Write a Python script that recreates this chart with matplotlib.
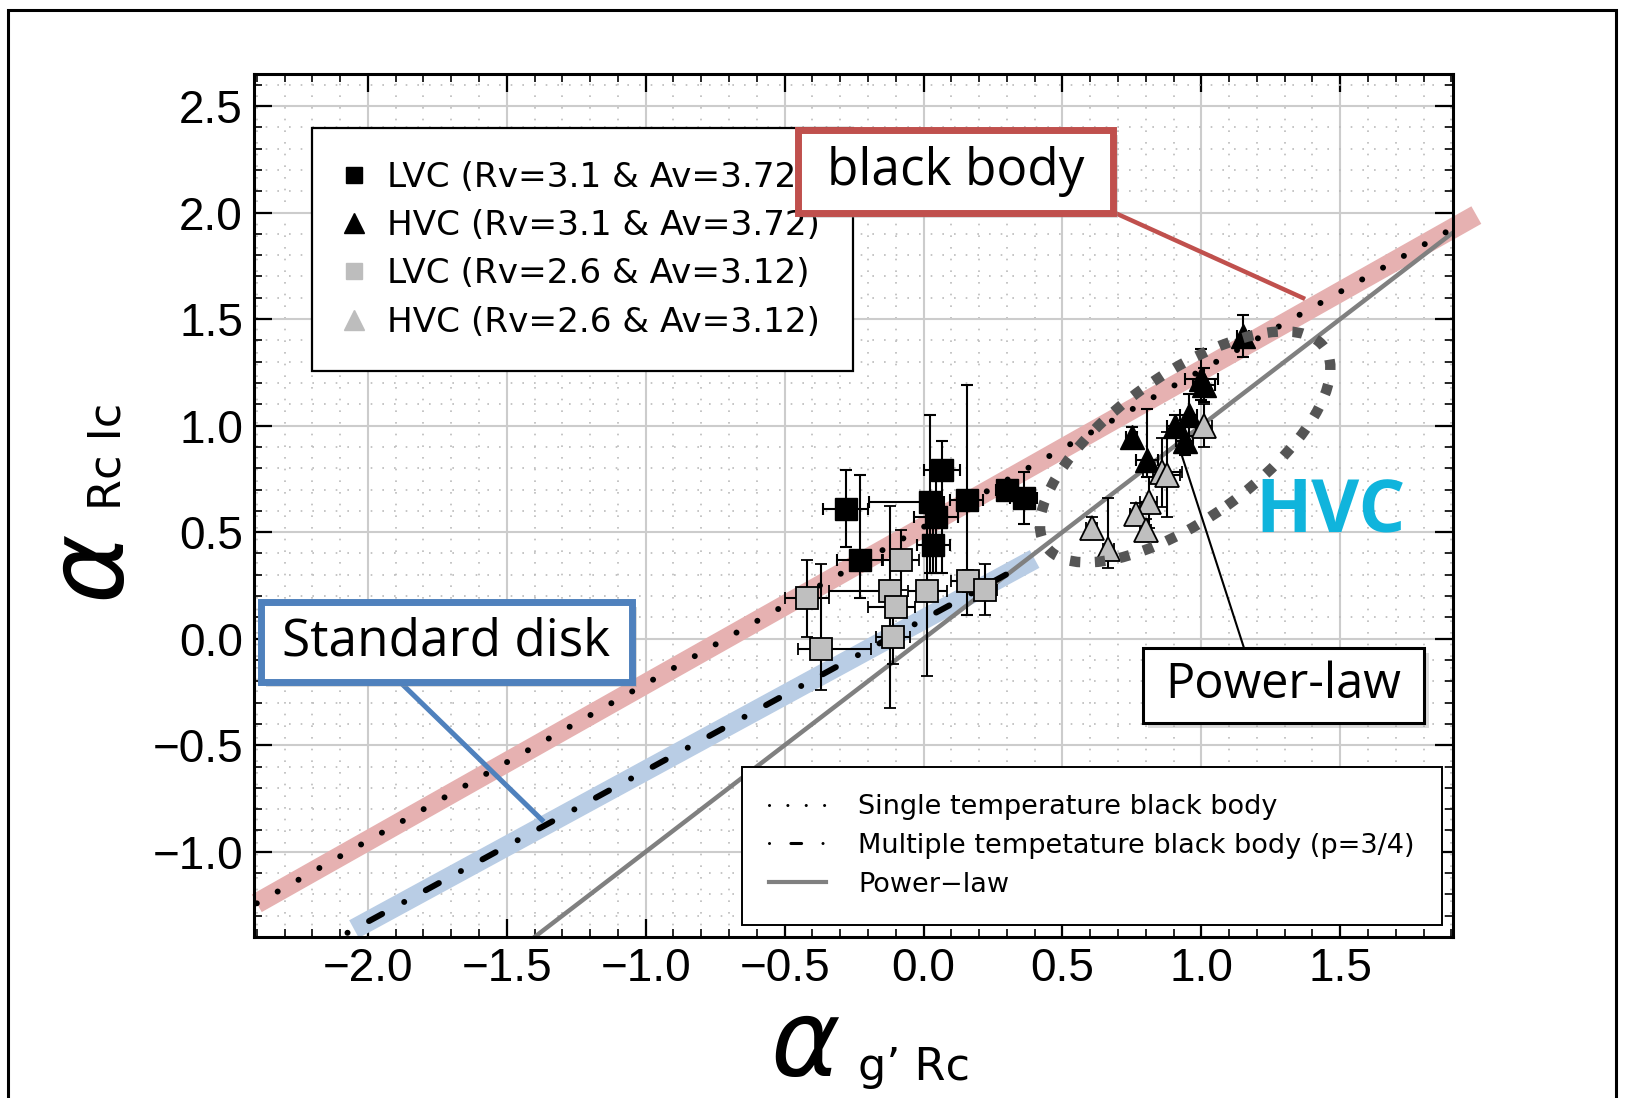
import matplotlib.pyplot as plt
import matplotlib.transforms as mtransforms
from matplotlib.lines import Line2D
from matplotlib.patches import Rectangle, Ellipse

W, H = 1626, 1098

# ---- data ----
# LVC (Rv=3.1 & Av=3.72), black squares
lvc1_x = [-0.28, -0.23, 0.065, 0.025, 0.045, 0.035, 0.155, 0.30, 0.36]
lvc1_y = [0.61, 0.37, 0.79, 0.64, 0.57, 0.44, 0.65, 0.70, 0.66]
lvc1_xlo = [0.08, 0.08, 0.065, 0.22, 0.08, 0.06, 0.06, 0.04, 0.05]
lvc1_xhi = [0.08, 0.08, 0.065, 0.05, 0.08, 0.06, 0.06, 0.04, 0.05]
lvc1_ylo = [0.18, 0.18, 0.48, 0.33, 0.26, 0.13, 0.54, 0.03, 0.12]
lvc1_yhi = [0.18, 0.40, 0.14, 0.41, 0.26, 0.13, 0.54, 0.03, 0.12]

# HVC (Rv=3.1 & Av=3.72), black triangles
hvc1_x = [1.15, 1.00, 1.01, 0.955, 0.905, 0.94, 0.75, 0.805]
hvc1_y = [1.42, 1.22, 1.19, 1.05, 1.00, 0.93, 0.945, 0.84]
hvc1_xerr = [0.02, 0.06, 0.04, 0.03, 0.03, 0.03, 0.02, 0.04]
hvc1_ylo = [0.10, 0.10, 0.08, 0.10, 0.05, 0.07, 0.05, 0.08]
hvc1_yhi = [0.10, 0.14, 0.08, 0.10, 0.05, 0.07, 0.05, 0.24]

# LVC (Rv=2.6 & Av=3.12), grey squares
lvc2_x = [-0.42, -0.37, -0.08, -0.12, -0.10, -0.11, 0.013, 0.16, 0.22]
lvc2_y = [0.19, -0.05, 0.37, 0.225, 0.15, 0.01, 0.225, 0.27, 0.23]
lvc2_xlo = [0.08, 0.08, 0.065, 0.22, 0.10, 0.06, 0.07, 0.06, 0.045]
lvc2_xhi = [0.08, 0.18, 0.065, 0.03, 0.07, 0.06, 0.07, 0.06, 0.045]
lvc2_ylo = [0.18, 0.19, 0.14, 0.55, 0.05, 0.13, 0.40, 0.05, 0.12]
lvc2_yhi = [0.18, 0.40, 0.14, 0.40, 0.05, 0.13, 0.40, 0.05, 0.12]

# HVC (Rv=2.6 & Av=3.12), grey triangles
hvc2_x = [1.01, 0.86, 0.875, 0.81, 0.765, 0.80, 0.605, 0.665]
hvc2_y = [1.00, 0.78, 0.77, 0.64, 0.585, 0.51, 0.52, 0.42]
hvc2_xerr = [0.03, 0.07, 0.05, 0.03, 0.02, 0.02, 0.02, 0.02]
hvc2_ylo = [0.10, 0.16, 0.20, 0.12, 0.05, 0.05, 0.05, 0.09]
hvc2_yhi = [0.10, 0.16, 0.20, 0.12, 0.05, 0.05, 0.05, 0.24]

# model lines
bb_x = [-2.40, 1.90]            # single temperature black body
bb_y = [-1.242, 1.922]
bb_band_x = [-2.40, 1.99]
bb_band_y = [-1.242, 1.988]
mbb_x = [-2.20, 0.30]           # multiple temperature black body (p=3/4)
mbb_y = [-1.470, 0.303]
mbb_band_x = [-2.05, 0.40]
mbb_band_y = [-1.363, 0.374]
pl_x = [-2.40, 1.90]            # power-law
pl_y = [-2.40, 1.90]

xticks = [-2.0, -1.5, -1.0, -0.5, 0.0, 0.5, 1.0, 1.5]
yticks = [-1.0, -0.5, 0.0, 0.5, 1.0, 1.5, 2.0, 2.5]

plt.rcParams['font.family'] = 'Liberation Sans'


def fx(px):
    return px / W


def fy(py):
    return 1 - py / H


fig = plt.figure(figsize=(W / 100, H / 100), dpi=100)
ax = fig.add_axes([fx(254), fy(937), (1453 - 254) / W, (937 - 74) / H])

# highlight bands
ax.plot(bb_band_x, bb_band_y, color='#e6b1b1', lw=14.5, solid_capstyle='butt', clip_on=False, zorder=1)
ax.plot(mbb_band_x, mbb_band_y, color='#b9cde5', lw=14.5, solid_capstyle='butt', clip_on=False, zorder=1)

# model lines
ax.plot(pl_x, pl_y, color='#808080', lw=3.2, zorder=2)
ax.plot(bb_x, bb_y, color='k', lw=4.3, ls=(0, (0.01, 4)), dash_capstyle='round', zorder=2)
ax.plot(mbb_x, mbb_y, color='k', lw=4.3, ls=(0, (2.5, 4.2, 0.01, 4.1)), dash_capstyle='round', zorder=2)

ekw = dict(ls='none', ecolor='k', elinewidth=1.5, capsize=4.5, capthick=1.5, zorder=3)
ax.errorbar(lvc1_x, lvc1_y, xerr=[lvc1_xlo, lvc1_xhi], yerr=[lvc1_ylo, lvc1_yhi],
            marker='s', ms=16, mfc='k', mec='k', **ekw)
ax.errorbar(hvc1_x, hvc1_y, xerr=hvc1_xerr, yerr=[hvc1_ylo, hvc1_yhi],
            marker='^', ms=17, mfc='k', mec='k', **ekw)
ax.errorbar(lvc2_x, lvc2_y, xerr=[lvc2_xlo, lvc2_xhi], yerr=[lvc2_ylo, lvc2_yhi],
            marker='s', ms=16, mfc='#bfbfbf', mec='k', mew=1.3, **ekw)
ax.errorbar(hvc2_x, hvc2_y, xerr=hvc2_xerr, yerr=[hvc2_ylo, hvc2_yhi],
            marker='^', ms=17, mfc='#bfbfbf', mec='k', mew=1.3, **ekw)

# dotted loop around the HVC points (size in inches, centred on a data point)
loop_tr = fig.dpi_scale_trans + mtransforms.ScaledTranslation(0.942, 0.90, ax.transData)
ax.add_patch(Ellipse((0, 0), 3.42, 1.44, angle=35.6, fill=False, ec='#555555', lw=7.5,
                     ls=(0, (1, 1.4)), transform=loop_tr, zorder=6, clip_on=False))

ax.set_xlim(-2.41, 1.906)
ax.set_ylim(-1.40, 2.65)
ax.set_xticks(xticks)
ax.set_yticks(yticks)
ax.set_xticks([v / 10 for v in range(-24, 20)], minor=True)
ax.set_yticks([v / 10 for v in range(-14, 27)], minor=True)
ax.set_xticklabels([f'{v:.1f}'.replace('-', '\u2212') for v in xticks])
ax.set_yticklabels([f'{v:.1f}'.replace('-', '\u2212') for v in yticks])
ax.tick_params(which='both', direction='in', top=True, right=True, labelsize=33)
ax.tick_params(which='major', length=13, width=1.6)
ax.tick_params(which='minor', length=6, width=1.2)
ax.tick_params(axis='y', pad=8)
ax.tick_params(axis='x', pad=7)
ax.set_axisbelow(True)
ax.grid(which='major', color='#cccccc', lw=1.5)
ax.grid(which='minor', color='#bbbbbb', lw=1.2, ls=(0, (1, 6)))
for sp in ax.spines.values():
    sp.set_linewidth(2.2)

# legends
h1 = [Line2D([], [], ls='none', marker='s', ms=12, color='k'),
      Line2D([], [], ls='none', marker='^', ms=14, color='k'),
      Line2D([], [], ls='none', marker='s', ms=12, color='#bdbdbd'),
      Line2D([], [], ls='none', marker='^', ms=14, color='#bdbdbd')]
l1 = ['LVC (Rv=3.1 & Av=3.72)', 'HVC (Rv=3.1 & Av=3.72)',
      'LVC (Rv=2.6 & Av=3.12)', 'HVC (Rv=2.6 & Av=3.12)']
leg1 = ax.legend(h1, l1, loc='upper left', bbox_to_anchor=((312 - 254) / 1199, (937 - 128) / 863),
                 prop={'family': 'DejaVu Sans', 'size': 24.7}, frameon=True, fancybox=False,
                 edgecolor='k', framealpha=1, borderaxespad=0, borderpad=0.95,
                 labelspacing=0.45, handlelength=0.55, handletextpad=0.7)
leg1.get_frame().set_linewidth(1.6)
ax.add_artist(leg1)

h2 = [Line2D([], [], color='k', lw=2.2, ls=(0, (0.01, 6)), dash_capstyle='round'),
      Line2D([], [], color='k', lw=2.2, ls=(0, (0.01, 7, 3.5, 7)), dash_capstyle='round'),
      Line2D([], [], color='#808080', lw=3)]
l2 = ['Single temperature black body', 'Multiple tempetature black body (p=3/4)', 'Power\u2212law']
leg2 = ax.legend(h2, l2, loc='upper left', bbox_to_anchor=((742 - 254) / 1199, (937 - 767) / 863),
                 prop={'family': 'DejaVu Sans', 'size': 19.5}, frameon=True, fancybox=False,
                 edgecolor='k', framealpha=1, borderaxespad=0, borderpad=1.0,
                 labelspacing=0.47, handlelength=2.1, handletextpad=1.2)
leg2.get_frame().set_linewidth(1.4)


# annotation boxes in figure pixels
def note_box(x0, y0, x1, y1, text, ec, lw, size):
    fig.add_artist(Rectangle((fx(x0) + 5 / W, fy(y1) - 5 / H), (x1 - x0) / W, (y1 - y0) / H,
                             transform=fig.transFigure, fc='#999999', ec='none', alpha=0.35, zorder=4))
    fig.add_artist(Rectangle((fx(x0), fy(y1)), (x1 - x0) / W, (y1 - y0) / H,
                             transform=fig.transFigure, fc='white', ec=ec, lw=lw, zorder=5))
    fig.text(fx((x0 + x1) / 2), fy((y0 + y1) / 2), text, ha='center', va='center',
             fontsize=size, family='Open Sans', zorder=6)


def connector(xa, ya, xb, yb, color, lw):
    fig.add_artist(Line2D([fx(xa), fx(xb)], [fy(ya), fy(yb)], color=color, lw=lw,
                          transform=fig.transFigure, zorder=4))


connector(1113, 212, 1303, 298, '#c0504d', 3.2)
connector(400, 682, 542, 820, '#4f81bd', 3.6)
connector(1244, 648, 1182, 456, 'k', 1.5)
note_box(798, 130, 1113, 213, 'black body', '#c0504d', 5, 37)
note_box(261, 602, 632, 682, 'Standard disk', '#4f81bd', 5, 37)
note_box(1143, 648, 1424, 723, 'Power-law', 'k', 2.2, 35)

fig.text(fx(1331), fy(512), 'HVC', ha='center', va='center', fontsize=53,
         family='Open Sans', weight='bold', color='#10b4dc')

# axis labels
fig.text(fx(806), fy(1097), '\u03b1', ha='center', va='bottom', fontsize=76,
         family='DejaVu Sans', style='italic')
fig.text(fx(858), fy(1080), 'g\u2019 Rc', ha='left', va='baseline', fontsize=32,
         family='DejaVu Sans')
fig.text(fx(120), fy(565), '\u03b1', ha='center', va='baseline', fontsize=76, rotation=90,
         rotation_mode='anchor', family='DejaVu Sans', style='italic')
fig.text(fx(120), fy(456), 'Rc Ic', ha='center', va='baseline', fontsize=32, rotation=90,
         rotation_mode='anchor', family='DejaVu Sans')

# outer frame
fig.add_artist(Rectangle((fx(8), -0.05), (1616 - 8) / W, fy(10) + 0.05, transform=fig.transFigure,
                         fill=False, ec='k', lw=2.2, zorder=10))

fig.savefig('out.png', dpi=100)
